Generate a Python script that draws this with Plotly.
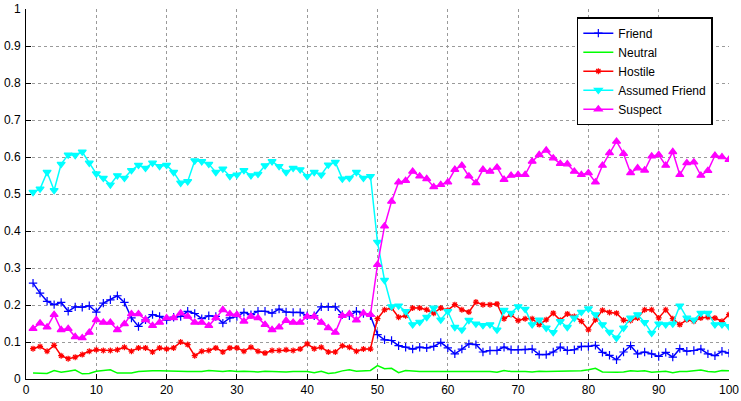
import plotly.graph_objects as go

steps = list(range(1, 101))

friend = [
    0.259, 0.232, 0.210, 0.201, 0.207, 0.183, 0.195, 0.194, 0.198, 0.181,
    0.205, 0.214, 0.225, 0.207, 0.165, 0.142, 0.160, 0.174, 0.169, 0.159,
    0.167, 0.169, 0.183, 0.177, 0.163, 0.171, 0.169, 0.151, 0.165, 0.169,
    0.180, 0.174, 0.183, 0.183, 0.178, 0.189, 0.181, 0.180, 0.180, 0.171,
    0.171, 0.195, 0.195, 0.195, 0.174, 0.171, 0.183, 0.177, 0.171, 0.120,
    0.106, 0.104, 0.090, 0.086, 0.081, 0.086, 0.084, 0.088, 0.099, 0.084,
    0.068, 0.081, 0.095, 0.093, 0.073, 0.077, 0.077, 0.086, 0.079, 0.079,
    0.079, 0.081, 0.066, 0.066, 0.073, 0.086, 0.077, 0.079, 0.088, 0.088,
    0.091, 0.072, 0.064, 0.052, 0.073, 0.090, 0.068, 0.073, 0.068, 0.061,
    0.072, 0.059, 0.082, 0.075, 0.077, 0.081, 0.068, 0.063, 0.075, 0.070,
]

neutral = [
    0.016, 0.015, 0.015, 0.023, 0.018, 0.021, 0.024, 0.014, 0.015, 0.021,
    0.023, 0.025, 0.016, 0.015, 0.016, 0.020, 0.022, 0.022, 0.022, 0.021,
    0.022, 0.021, 0.020, 0.020, 0.020, 0.023, 0.022, 0.020, 0.022, 0.020,
    0.021, 0.019, 0.019, 0.021, 0.020, 0.018, 0.019, 0.020, 0.020, 0.020,
    0.017, 0.021, 0.015, 0.017, 0.022, 0.025, 0.021, 0.023, 0.023, 0.036,
    0.028, 0.029, 0.017, 0.023, 0.021, 0.020, 0.020, 0.020, 0.021, 0.020,
    0.021, 0.019, 0.021, 0.020, 0.021, 0.020, 0.018, 0.023, 0.020, 0.021,
    0.020, 0.019, 0.021, 0.020, 0.020, 0.021, 0.020, 0.021, 0.022, 0.025,
    0.029, 0.019, 0.018, 0.018, 0.019, 0.022, 0.021, 0.022, 0.018, 0.019,
    0.021, 0.017, 0.020, 0.020, 0.021, 0.024, 0.020, 0.019, 0.023, 0.022,
]

hostile = [
    0.082, 0.088, 0.075, 0.091, 0.063, 0.055, 0.059, 0.066, 0.075, 0.079,
    0.077, 0.077, 0.079, 0.086, 0.075, 0.084, 0.084, 0.073, 0.084, 0.081,
    0.084, 0.100, 0.093, 0.063, 0.075, 0.077, 0.084, 0.073, 0.084, 0.084,
    0.075, 0.086, 0.075, 0.070, 0.077, 0.077, 0.079, 0.077, 0.081, 0.095,
    0.082, 0.086, 0.073, 0.073, 0.090, 0.086, 0.075, 0.081, 0.081, 0.163,
    0.187, 0.192, 0.167, 0.171, 0.192, 0.192, 0.187, 0.178, 0.192, 0.186,
    0.201, 0.187, 0.181, 0.208, 0.201, 0.201, 0.203, 0.163, 0.174, 0.158,
    0.163, 0.163, 0.147, 0.160, 0.178, 0.159, 0.176, 0.169, 0.156, 0.133,
    0.160, 0.186, 0.180, 0.178, 0.159, 0.158, 0.165, 0.187, 0.187, 0.165,
    0.187, 0.163, 0.147, 0.160, 0.156, 0.165, 0.167, 0.165, 0.156, 0.174,
]

assumed_friend = [
    0.505, 0.514, 0.559, 0.510, 0.581, 0.606, 0.605, 0.614, 0.584, 0.555,
    0.543, 0.525, 0.550, 0.543, 0.564, 0.578, 0.570, 0.584, 0.575, 0.578,
    0.559, 0.530, 0.534, 0.590, 0.588, 0.581, 0.559, 0.568, 0.548, 0.552,
    0.564, 0.550, 0.554, 0.577, 0.588, 0.575, 0.559, 0.570, 0.566, 0.548,
    0.559, 0.552, 0.579, 0.586, 0.541, 0.543, 0.559, 0.543, 0.548, 0.370,
    0.267, 0.196, 0.198, 0.183, 0.147, 0.154, 0.167, 0.192, 0.160, 0.183,
    0.140, 0.133, 0.159, 0.149, 0.145, 0.147, 0.133, 0.186, 0.178, 0.196,
    0.189, 0.147, 0.160, 0.138, 0.126, 0.156, 0.140, 0.165, 0.181, 0.190,
    0.174, 0.147, 0.127, 0.111, 0.138, 0.165, 0.174, 0.153, 0.124, 0.149,
    0.147, 0.149, 0.198, 0.165, 0.160, 0.178, 0.178, 0.147, 0.147, 0.142,
]

suspect = [
    0.136, 0.151, 0.140, 0.174, 0.133, 0.136, 0.114, 0.111, 0.126, 0.160,
    0.153, 0.153, 0.133, 0.149, 0.176, 0.176, 0.160, 0.144, 0.153, 0.165,
    0.165, 0.178, 0.169, 0.153, 0.153, 0.144, 0.165, 0.187, 0.176, 0.174,
    0.156, 0.169, 0.165, 0.147, 0.133, 0.140, 0.158, 0.153, 0.153, 0.169,
    0.169, 0.153, 0.138, 0.126, 0.171, 0.176, 0.159, 0.178, 0.174, 0.309,
    0.413, 0.480, 0.532, 0.536, 0.561, 0.548, 0.541, 0.519, 0.525, 0.532,
    0.566, 0.577, 0.548, 0.530, 0.566, 0.561, 0.572, 0.539, 0.550, 0.552,
    0.552, 0.588, 0.606, 0.618, 0.597, 0.582, 0.581, 0.561, 0.552, 0.557,
    0.532, 0.577, 0.611, 0.642, 0.609, 0.557, 0.570, 0.564, 0.602, 0.606,
    0.577, 0.614, 0.552, 0.584, 0.586, 0.550, 0.563, 0.604, 0.600, 0.593,
]

series = [
    ("Friend", friend, "#0000ff", "cross-thin", 6),
    ("Neutral", neutral, "#00ff00", None, 0),
    ("Hostile", hostile, "#ff0000", "asterisk", 5),
    ("Assumed Friend", assumed_friend, "#00ffff", "triangle-down", 7),
    ("Suspect", suspect, "#ff00ff", "triangle-up", 7),
]

fig = go.Figure()
for name, values, color, symbol, size in series:
    if symbol is None:
        fig.add_trace(go.Scatter(
            x=steps, y=values, name=name, mode="lines",
            line=dict(color=color, width=1.5),
        ))
    else:
        fig.add_trace(go.Scatter(
            x=steps, y=values, name=name, mode="lines+markers",
            line=dict(color=color, width=1.5),
            marker=dict(symbol=symbol, size=size, color=color,
                        line=dict(color=color, width=1.2)),
        ))

axis_common = dict(
    showgrid=True, gridcolor="#9a9a9a", griddash="dot", gridwidth=1,
    zeroline=False, showline=True, linecolor="black", linewidth=1,
    mirror=False, ticks="inside", ticklen=5, tickcolor="black",
    automargin=False,
    tickfont=dict(family="Liberation Sans, Arial, sans-serif", size=12, color="black"),
)

fig.update_xaxes(range=[0, 100], dtick=10, tick0=0, **axis_common)
fig.update_yaxes(range=[0, 1], dtick=0.1, tick0=0, ticklabelstandoff=2, **axis_common)

fig.update_layout(
    width=741, height=401,
    margin=dict(l=26, r=12, t=9, b=22),
    paper_bgcolor="white", plot_bgcolor="white",
    font=dict(family="Liberation Sans, Arial, sans-serif", size=12, color="black"),
    legend=dict(
        x=0.977, y=0.978, xanchor="right", yanchor="top",
        bgcolor="white", bordercolor="black", borderwidth=1.5,
        font=dict(size=12, color="black"),
        itemwidth=30, tracegroupgap=0,
    ),
)

fig.write_html("out.html")
